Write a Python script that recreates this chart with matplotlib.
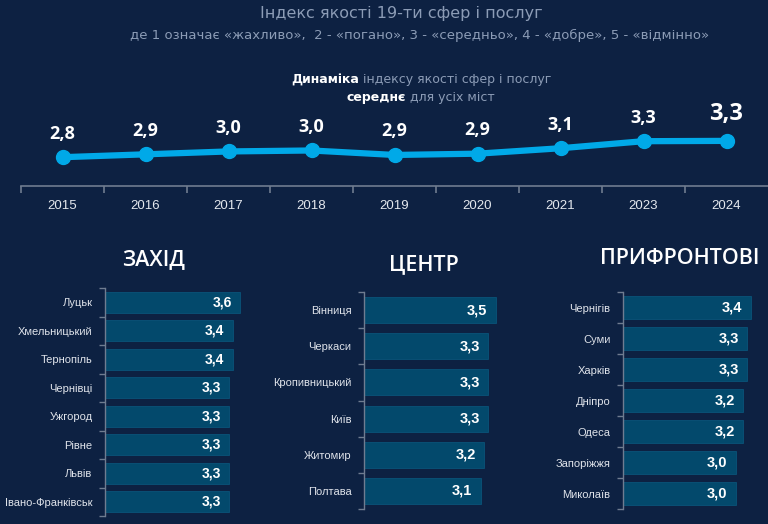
import matplotlib
matplotlib.use("Agg")
import matplotlib.pyplot as plt
from matplotlib import font_manager

# ---------------- data ----------------
years = ["2015", "2016", "2017", "2018", "2019", "2020", "2021", "2023", "2024"]
index_values = [2.80, 2.89, 2.98, 3.01, 2.87, 2.91, 3.08, 3.30, 3.31]
index_labels = ["2,8", "2,9", "3,0", "3,0", "2,9", "2,9", "3,1", "3,3", "3,3"]

west_cities = ["Луцьк", "Хмельницький", "Тернопіль", "Чернівці", "Ужгород", "Рівне", "Львів", "Івано-Франківськ"]
west_values = [3.6, 3.4, 3.4, 3.3, 3.3, 3.3, 3.3, 3.3]

center_cities = ["Вінниця", "Черкаси", "Кропивницький", "Київ", "Житомир", "Полтава"]
center_values = [3.5, 3.3, 3.3, 3.3, 3.2, 3.1]

front_cities = ["Чернігів", "Суми", "Харків", "Дніпро", "Одеса", "Запоріжжя", "Миколаїв"]
front_values = [3.4, 3.3, 3.3, 3.2, 3.2, 3.0, 3.0]

title = "Індекс якості 19-ти сфер і послуг"
subtitle = "де 1 означає «жахливо»,  2 - «погано», 3 - «середньо», 4 - «добре», 5 - «відмінно»"

# ---------------- style ----------------
BG = "#0d2142"
GRAY = "#8c9cb6"
LINE = "#00a9e8"
BAR = "#03496c"
AXC = "#6f7c90"
W, H = 768, 524

installed = {f.name for f in font_manager.fontManager.ttflist}
narrow = "Liberation Sans Narrow" if "Liberation Sans Narrow" in installed else "DejaVu Sans"
plt.rcParams["font.family"] = ["Liberation Sans", "DejaVu Sans"]

fig = plt.figure(figsize=(W / 100, H / 100), dpi=100, facecolor=BG)


def px_axes(left, top, width, height):
    return fig.add_axes([left / W, 1 - (top + height) / H, width / W, height / H])


# titles
fig.text(401 / W, 1 - 13 / H, title, ha="center", va="center", color=GRAY,
         fontsize=11.5, family=[narrow, "DejaVu Sans"])
fig.text(420 / W, 1 - 35 / H, subtitle, ha="center", va="center", color=GRAY,
         fontsize=9.5, family=[narrow, "DejaVu Sans"])


def mixed_line(y, parts, cx):
    r = fig.canvas.get_renderer()
    texts = []
    for s, bold in parts:
        t = fig.text(0, 1 - y / H, s, ha="left", va="center",
                     color="white" if bold else GRAY, fontsize=9,
                     fontweight="bold" if bold else "normal",
                     family=[narrow, "DejaVu Sans"])
        texts.append(t)
    widths = [t.get_window_extent(renderer=r).width for t in texts]
    total = sum(widths)
    x = cx - total / 2
    for t, w in zip(texts, widths):
        t.set_x(x / W)
        x += w


mixed_line(80, [("Динаміка", True), (" індексу якості сфер і послуг", False)], 421)
mixed_line(97, [("середнє", True), (" для усіх міст", False)], 421)

# ---------------- line chart ----------------
ymin, ymax = 1.9, 5.8
ppu = 32.0
ax = px_axes(21, 186 - (ymax - ymin) * ppu, 747, (ymax - ymin) * ppu)
ax.set_facecolor("none")
xs = list(range(len(years)))
ax.plot(xs, index_values, color=LINE, lw=4.5, marker="o", ms=10, zorder=3,
        solid_capstyle="round")
ax.set_xlim(-0.5, len(years) - 0.5)
ax.set_ylim(ymin, ymax)
for i, (v, lab) in enumerate(zip(index_values, index_labels)):
    last = i == len(years) - 1
    ax.annotate(lab, (i, v), xytext=(0, 19 if last else 17), textcoords="offset points",
                ha="center", va="center", color="white", fontweight="bold",
                fontsize=17 if last else 13, family=["Open Sans", "DejaVu Sans"])
for s in ["top", "right", "left"]:
    ax.spines[s].set_visible(False)
ax.spines["bottom"].set_color(AXC)
ax.spines["bottom"].set_linewidth(1.2)
ax.set_yticks([])
ax.set_xticks(xs)
ax.set_xticklabels(years, color="#e4e8ee", fontsize=9.5)
ax.tick_params(axis="x", which="major", length=0, pad=10)
ax.set_xticks([x - 0.5 for x in xs], minor=True)
ax.tick_params(axis="x", which="minor", length=5, color=AXC, width=1.2)

# ---------------- bar panels ----------------
SCALE = 37.6


def bar_panel(left, top, bottom, cities, values, ttl, tx, ty, lab_fs, city_fs):
    n = len(cities)
    a = px_axes(left, top, 4.0 * SCALE, bottom - top)
    a.set_facecolor("none")
    ys = list(range(n))
    a.barh(ys, values, height=0.72, color=BAR, edgecolor="#0a5a80", linewidth=0.5)
    a.set_xlim(0, 4.0)
    a.set_ylim(n - 0.5, -0.5)
    for i, v in enumerate(values):
        a.annotate(f"{v:.1f}".replace(".", ","), (v, i), xytext=(-6, 0),
                   textcoords="offset points", ha="right", va="center",
                   color="white", fontweight="bold", fontsize=lab_fs)
    for s in ["top", "right", "bottom"]:
        a.spines[s].set_visible(False)
    a.spines["left"].set_color(AXC)
    a.spines["left"].set_linewidth(1.0)
    a.set_xticks([])
    a.set_yticks(ys)
    a.set_yticklabels(cities, color="#dfe3ea", fontsize=city_fs)
    a.tick_params(axis="y", which="major", length=0, pad=9)
    a.set_yticks([y - 0.5 for y in ys] + [n - 0.5], minor=True)
    a.tick_params(axis="y", which="minor", length=4, color=AXC, width=1.0)
    fig.text(tx / W, 1 - ty / H, ttl, ha="center", va="center", color="white",
             fontsize=15.5, fontweight="semibold", family=["Open Sans", "DejaVu Sans"])


bar_panel(105, 288, 516, west_cities, west_values, "ЗАХІД", 154, 260, 10, 8)
bar_panel(364, 292, 509, center_cities, center_values, "ЦЕНТР", 424, 265, 10.5, 8)
bar_panel(623, 292, 509, front_cities, front_values, "ПРИФРОНТОВІ", 680, 258, 10.5, 8)

fig.savefig("out.png", dpi=100, facecolor=BG)
